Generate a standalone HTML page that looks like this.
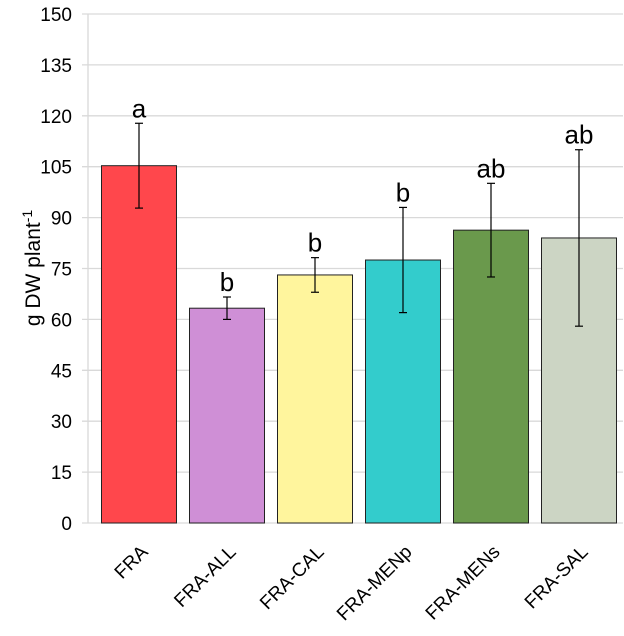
<!DOCTYPE html>
<html><head><meta charset="utf-8"><style>
body{margin:0;background:#fff;}
svg text{font-family:"Liberation Sans",sans-serif;fill:#000;}
</style></head><body>
<svg id="c" width="624" height="636" style="position:absolute;left:0;top:0"></svg>
<script>
const categories=["FRA","FRA-ALL","FRA-CAL","FRA-MENp","FRA-MENs","FRA-SAL"];
const values=[105.3,63.3,73.1,77.5,86.3,84];
const errors=[12.5,3.3,5.1,15.5,13.8,26];
const letters=["a","b","b","b","ab","ab"];
const colors=["#ff474c","#cf8fd6","#fff59d","#33cccc","#6a994c","#ccd5c4"];
const ticks=[0,15,30,45,60,75,90,105,120,135,150];
const NS="http://www.w3.org/2000/svg";
const svg=document.getElementById('c');
const axX=88,x0=95,x1=623,yb=523,yt=14,ymax=150;
const y=v=>yb-(v/ymax)*(yb-yt);
const bw=(x1-x0)/categories.length;
function mk(t,a,p){const e=document.createElementNS(NS,t);for(const k in a)e.setAttribute(k,a[k]);(p||svg).appendChild(e);return e;}
ticks.forEach(t=>{
 const g=mk('line',{x1:axX-6,x2:x1,y1:y(t),y2:y(t),stroke:'#d9d9d9','stroke-width':1.3});
 
 
 const l=mk('text',{x:72,y:y(t)+7,'text-anchor':'end','font-size':19});
 l.textContent=t;
 
 
});
const ax=mk('line',{x1:axX,x2:axX,y1:yt,y2:yb,stroke:'#d9d9d9','stroke-width':1.3});


categories.forEach((c,i)=>{
 const cx=x0+bw*(i+0.5);
 const r=mk('rect',{x:cx-37.5,y:y(values[i]),width:75,height:yb-y(values[i]),fill:colors[i],stroke:'#222','stroke-width':1});
 
 
 const hi=y(values[i]+errors[i]),lo=y(values[i]-errors[i]);
 const eg=mk('g',{stroke:'#000','stroke-width':1.2});
 
 
 mk('line',{x1:cx,x2:cx,y1:hi,y2:lo},eg);
 mk('line',{x1:cx-4,x2:cx+4,y1:hi,y2:hi},eg);
 mk('line',{x1:cx-4,x2:cx+4,y1:lo,y2:lo},eg);
 const lt=mk('text',{x:cx,y:hi-6,'text-anchor':'middle','font-size':26});
 lt.textContent=letters[i];
 
 
 const xl=mk('text',{x:0,y:0,'text-anchor':'end','font-size':19,transform:`translate(${cx+10},${553}) rotate(-45)`});
 xl.textContent=c;
 
 
});
const yt2=mk('text',{transform:'translate(40,268) rotate(-90)','text-anchor':'middle','font-size':21});
yt2.innerHTML='g DW plant<tspan dy="-8" font-size="14">-1</tspan>';


</script>
</body></html>
